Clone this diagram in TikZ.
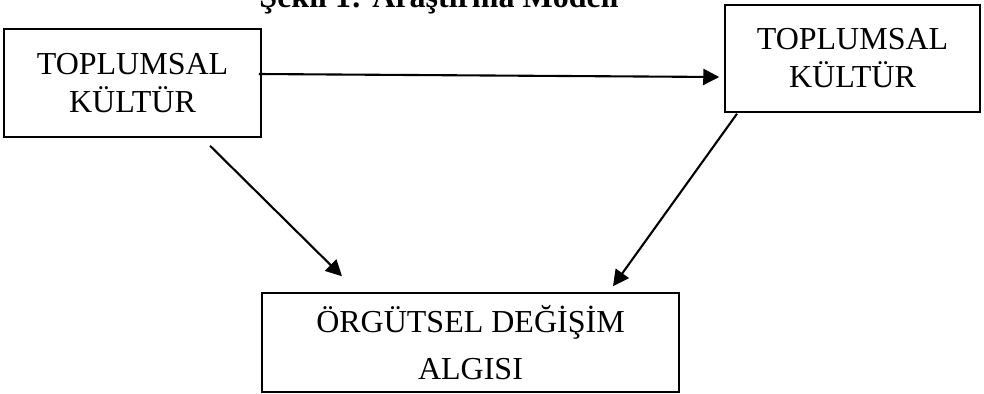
\documentclass[tikz,border=0pt]{standalone}
\usepackage{fontspec}
\setmainfont{Liberation Serif}
\usepackage{tikz}
\usetikzlibrary{arrows.meta,positioning}

\begin{document}
\begin{tikzpicture}[
    x=0.5pt,y=-0.5pt,
    box/.style={draw,rectangle,line width=0.75pt,align=center,inner sep=0pt,
                font=\fontsize{16}{19}\selectfont},
    arr/.style={-{Triangle[length=8pt,width=8pt]},line width=1.05pt}
  ]
  \useasboundingbox (0,0) rectangle (984,393);
  \node[anchor=base,font=\fontsize{16}{19}\selectfont\bfseries] (title) at (439,7)
    {Şekil 1: Araştırma Modeli};
  \node[box,minimum width=128.5pt,minimum height=54pt] (lb) at (132.5,83)
    {TOPLUMSAL\\KÜLTÜR};
  \node[box,minimum width=127.5pt,minimum height=53.5pt] (rb) at (852.5,58.5)
    {TOPLUMSAL\\KÜLTÜR};
  \node[box,minimum width=208.5pt,minimum height=49.5pt,
        font=\fontsize{16}{23.5}\selectfont] (bb) at (470.5,342.5)
    {ÖRGÜTSEL DEĞİŞİM\\ALGISI};
  % Links
  \draw[arr] ([xshift=-1.5pt,yshift=4.5pt]lb.east)
    -- ([xshift=-2.5pt,yshift=-9.25pt]rb.west);
  \draw[arr] ([xshift=38.75pt,yshift=-4pt]lb.south)
    -- ([xshift=-64.25pt,yshift=8pt]bb.north);
  \draw[arr] ([xshift=-57.75pt,yshift=-0.5pt]rb.south)
    -- ([xshift=71.25pt,yshift=3pt]bb.north);
\end{tikzpicture}
\end{document}
